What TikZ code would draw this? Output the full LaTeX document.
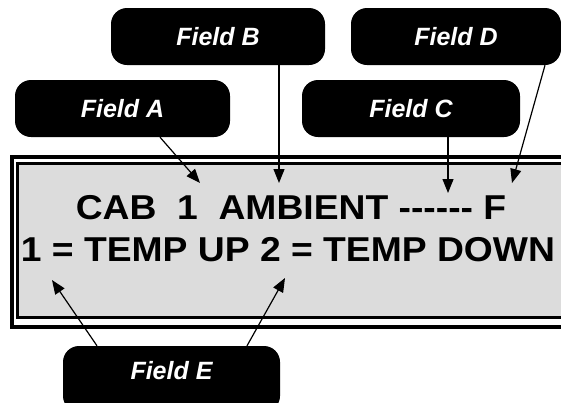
\documentclass[tikz,border=0pt]{standalone}
\usepackage{fontspec}
\setmainfont{Liberation Sans}
\newfontfamily\lcdfont{Liberation Sans}[Ligatures=TeXOff,FakeStretch=1.08]
\usetikzlibrary{arrows.meta, positioning}
\definecolor{lcdgray}{RGB}{220,220,220}
\tikzset{
  field/.style={rectangle,fill=black,text=white,rounded corners=16pt,minimum width=215pt,minimum height=57pt,inner sep=0pt,font=\fontsize{25}{30}\selectfont\bfseries\itshape},
  lcd/.style={anchor=base,inner sep=0pt,font=\lcdfont\fontsize{34.5}{40}\selectfont\bfseries},
  line/.style={-{Triangle[length=14pt,width=11pt]},line width=1.2pt}
}

\begin{document}
\begin{tikzpicture}[x=1pt,y=-1pt]
\useasboundingbox (0,0) rectangle (561,402);
\clip (0,0) rectangle (561,402);
% display frame
\draw[line width=4pt] (12,157) rectangle (580,327);
\draw[line width=3pt,fill=lcdgray] (17.5,163.5) rectangle (580,317);
\node[lcd] (la) at (291,219) {CAB\ \ 1\ \ AMBIENT ------ F};
\node[lcd] (lb) at (288,261) {1 = TEMP UP 2 = TEMP DOWN};
% callouts
\node[field] (fa) at (122.5,108.5) {Field A};
\node[field, minimum width=214pt] (fb) at (218,36.5) {Field B};
\node[field, minimum width=218pt] (fc) at (411,108.5) {Field C};
\node[field, minimum width=210pt] (fd) at (456,36.5) {Field D};
\node[field, minimum width=217pt, minimum height=66pt, text depth=18pt] (fe) at (171.5,379) {Field E};
\coordinate (ta) at (200,183);
\coordinate (tb) at (279,183);
\coordinate (tc) at (448,193);
\coordinate (td) at (512,183);
\coordinate (te1) at (52,280);
\coordinate (te2) at (285,278);
\draw[line] ([xshift=37.5pt]fa.south) -- (ta);
\draw[line] ([xshift=61pt]fb.south) -- (tb);
\draw[line] ([xshift=37pt]fc.south) -- (tc);
\draw[line] ([xshift=89pt]fd.south) -- (td);
\draw[line] ([xshift=-74.5pt]fe.north) -- (te1);
\draw[line] ([xshift=75.5pt]fe.north) -- (te2);
\end{tikzpicture}
\end{document}
